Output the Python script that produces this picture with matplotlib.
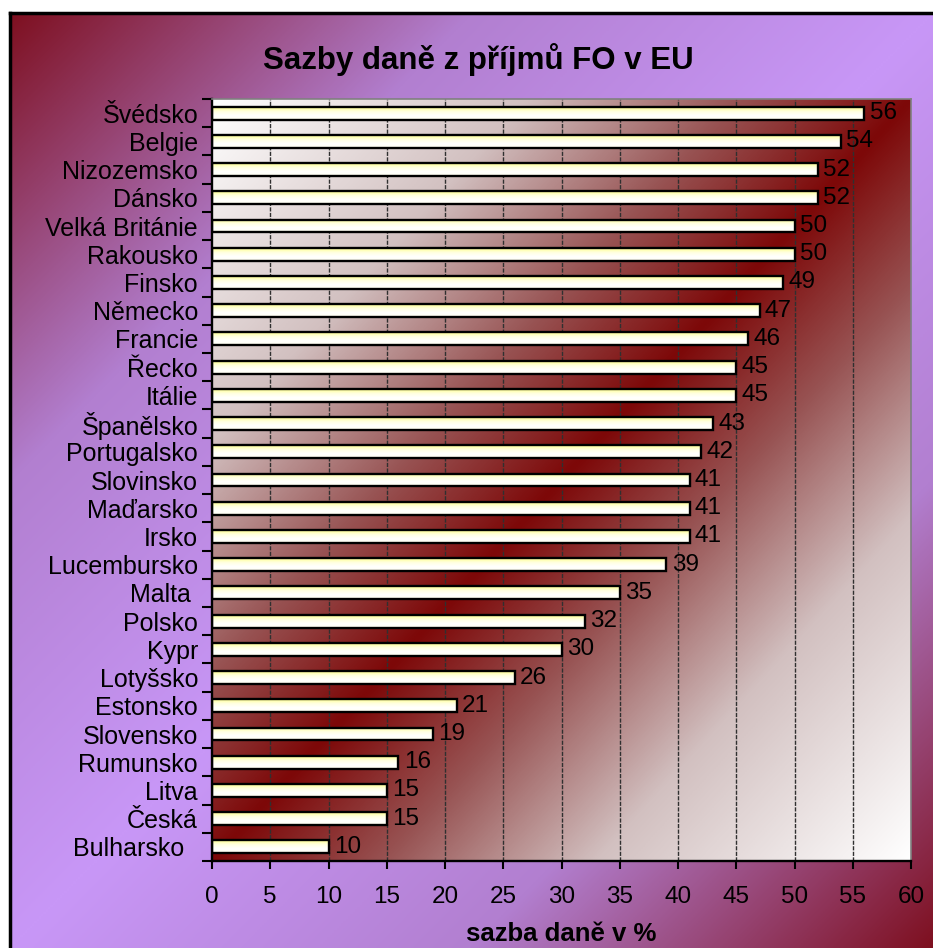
import numpy as np
import matplotlib.pyplot as plt
from matplotlib.colors import LinearSegmentedColormap

# data (top to bottom as shown)
countries = ['Švédsko', 'Belgie', 'Nizozemsko', 'Dánsko', 'Velká Británie',
             'Rakousko', 'Finsko', 'Německo', 'Francie', 'Řecko', 'Itálie',
             'Španělsko', 'Portugalsko', 'Slovinsko', 'Maďarsko', 'Irsko',
             'Lucembursko', 'Malta ', 'Polsko', 'Kypr', 'Lotyšsko', 'Estonsko',
             'Slovensko', 'Rumunsko', 'Litva', 'Česká', 'Bulharsko  ']
rates = [56, 54, 52, 52, 50, 50, 49, 47, 46, 45, 45, 43, 42, 41, 41, 41,
         39, 35, 32, 30, 26, 21, 19, 16, 15, 15, 10]
x_ticks = [0, 5, 10, 15, 20, 25, 30, 35, 40, 45, 50, 55, 60]

plt.rcParams['font.family'] = ['Liberation Sans', 'DejaVu Sans']

W, H = 933, 948
fig = plt.figure(figsize=(W / 100, H / 100), dpi=100)
fig.patch.set_facecolor('white')

# chart area background: red corners, lavender along the other diagonal
bg = fig.add_axes([10 / W, 0, 1 - 10 / W, 1 - 13 / H], zorder=0)
yy, xx = np.mgrid[1:0:400j, 0:1:400j]
bg_cmap = LinearSegmentedColormap.from_list('bg', ['#c897f7', '#b27fd0', '#7e1020'])
bg.imshow(np.abs(xx - yy), cmap=bg_cmap, extent=(0, 1, 0, 1), aspect='auto',
          interpolation='bilinear')
bg.set_xlim(0, 1)
bg.set_ylim(0, 1)
bg.set_xticks([])
bg.set_yticks([])
for side in ['right', 'bottom']:
    bg.spines[side].set_visible(False)
for side in ['left', 'top']:
    bg.spines[side].set_linewidth(2.5)
    bg.spines[side].set_color('black')

# plot area
left, right, top, bottom = 212, 911, 99, 861
ax = fig.add_axes([left / W, (H - bottom) / H, (right - left) / W, (bottom - top) / H],
                  zorder=1)
n = len(countries)
ypos = np.arange(n)

plot_cmap = LinearSegmentedColormap.from_list(
    'pl', [(0, '#7d0808'), (0.25, '#985454'), (0.55, '#d2c0c0'), (1, '#ffffff')])
ax.imshow(np.abs(xx - yy), cmap=plot_cmap, extent=(0, 1, 0, 1), aspect='auto',
          interpolation='bilinear', transform=ax.transAxes, zorder=0)

ax.set_xlim(0, 60)
ax.set_ylim(n - 0.5, -0.5)

for x in x_ticks[1:-1]:
    ax.axvline(x, color='#303030', lw=1.0, ls=(0, (3, 1)), zorder=1)

bar_h = 0.46
bars = ax.barh(ypos, rates, height=bar_h, color='none', edgecolor='black',
               linewidth=1.7, zorder=3)

bar_cmap = LinearSegmentedColormap.from_list('bar', ['#ffff90', '#ffffe0', '#ffffff', '#fffff0'])
grad = np.linspace(0, 1, 50).reshape(-1, 1)
for b in bars:
    x0, y0 = b.get_xy()
    im = ax.imshow(grad, cmap=bar_cmap, aspect='auto', interpolation='bilinear',
                   extent=(x0, x0 + b.get_width(), y0 + b.get_height(), y0), zorder=2)
    im.set_clip_path(b)

ax.set_xlim(0, 60)
ax.set_ylim(n - 0.5, -0.5)

for y, v in zip(ypos, rates):
    ax.text(v + 0.45, y, str(v), va='center', ha='left', fontsize=17.5, zorder=4)

ax.set_xticks(x_ticks)
ax.set_xticklabels([str(t) for t in x_ticks], fontsize=17.5)
ax.set_yticks(np.arange(n + 1) - 0.5)
ax.set_yticklabels([])
ax.set_yticks(ypos, minor=True)
ax.set_yticklabels(countries, minor=True, fontsize=18)
ax.tick_params(axis='y', which='major', direction='out', length=7, width=1.5)
ax.tick_params(axis='y', which='minor', length=0, pad=10)
ax.tick_params(axis='x', direction='out', length=6, width=1.5, pad=12)

ax.spines['left'].set_linewidth(1.7)
ax.spines['bottom'].set_linewidth(1.7)
ax.spines['top'].set_color('#808080')
ax.spines['right'].set_color('#808080')
ax.spines['top'].set_linewidth(1.2)
ax.spines['right'].set_linewidth(1.2)

fig.text(478 / W, 1 - 60 / H, 'Sazby daně z příjmů FO v EU', ha='center', va='center',
         fontsize=22.5, fontweight='bold')
fig.text(561 / W, 1 - 934 / H, 'sazba daně v %', ha='center', va='center',
         fontsize=18.5, fontweight='bold')

fig.savefig('out.png', dpi=100)
